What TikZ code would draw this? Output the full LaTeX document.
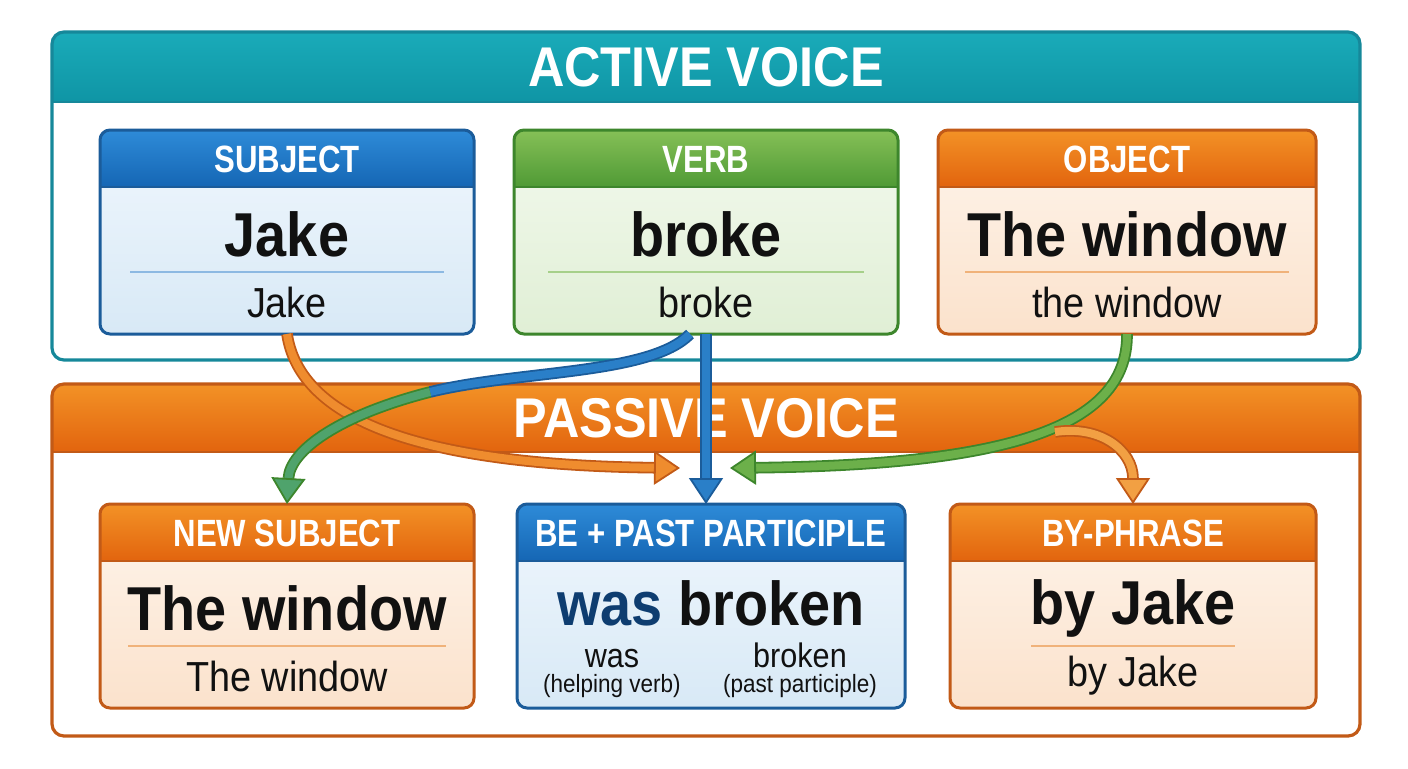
\documentclass[tikz,border=0pt]{standalone}
\usepackage{fontspec}
\setmainfont{Liberation Sans}[FakeStretch=0.9]
\newfontfamily\headfont{Liberation Sans}[FakeStretch=0.82]
\newfontfamily\titlefont{Liberation Sans}[FakeStretch=0.9]
\usetikzlibrary{arrows.meta,calc,positioning}
\definecolor{topABlue}{HTML}{2E8BD8}
\definecolor{topBBlue}{HTML}{1566B4}
\definecolor{edgeBlue}{HTML}{1B5C9A}
\definecolor{bodyABlue}{HTML}{F0F7FD}
\definecolor{bodyBBlue}{HTML}{D8E9F6}
\definecolor{ruleBlue}{HTML}{8DB9E2}
\definecolor{topAGreen}{HTML}{86C057}
\definecolor{topBGreen}{HTML}{4F9A35}
\definecolor{edgeGreen}{HTML}{3D862C}
\definecolor{bodyAGreen}{HTML}{F3F9EE}
\definecolor{bodyBGreen}{HTML}{E0EFD5}
\definecolor{ruleGreen}{HTML}{A6D08A}
\definecolor{topAOrange}{HTML}{F39226}
\definecolor{topBOrange}{HTML}{E2640E}
\definecolor{edgeOrange}{HTML}{C25A17}
\definecolor{bodyAOrange}{HTML}{FEF5EC}
\definecolor{bodyBOrange}{HTML}{FBE2CC}
\definecolor{ruleOrange}{HTML}{F0B27A}
\definecolor{topATeal}{HTML}{1AABB9}
\definecolor{topBTeal}{HTML}{0F95A5}
\definecolor{edgeTeal}{HTML}{16889A}
\definecolor{WasBlue}{HTML}{0E3D70}
\definecolor{arrowOrange}{HTML}{EF8C2E}
\definecolor{arrowBlue}{HTML}{2A7FC8}
\definecolor{arrowTeal}{HTML}{4FA36C}
\definecolor{arrowGreen}{HTML}{6CB04A}
\definecolor{arrowLight}{HTML}{F2A043}
\definecolor{Ink}{HTML}{111111}

\begin{document}
\begin{tikzpicture}[x=0.5pt,y=-0.5pt,
    panelbox/.style={rectangle,inner sep=0pt,outer sep=0pt,minimum width=654pt},
    cardbox/.style={rectangle,inner sep=0pt,outer sep=0pt,minimum height=102pt},
    titletext/.style={text=white,font=\titlefont\bfseries\fontsize{28}{32}\selectfont},
    headtext/.style={text=white,font=\headfont\bfseries\fontsize{19}{22}\selectfont},
    bigtext/.style={text=Ink,inner sep=0pt,font=\bfseries\fontsize{31}{34}\selectfont},
    smalltext/.style={text=Ink,inner sep=0pt,font=\fontsize{21}{24}\selectfont},
    notetext/.style={text=Ink,inner sep=0pt,font=\fontsize{12.5}{14}\selectfont},
    flow/.style 2 args={draw=#1,double=#2,double distance=4pt,line width=0.9pt,
                        -{Triangle[length=13pt,width=17pt,fill=#2]}}]
  \useasboundingbox (0,0) rectangle (1408,768);
  % panels: white body, coloured header band
  \foreach \pname/\ptop/\pbot/\phead/\col/\ptitle in
      {active/32/360/70/Teal/ACTIVE VOICE,passive/384/736/68/Orange/PASSIVE VOICE}{%
    \node[panelbox,minimum height=(\pbot-\ptop)*0.5pt] (\pname) at (706,{(\ptop+\pbot)/2}) {};
    \fill[white,rounded corners=6pt] (\pname.north west) rectangle (\pname.south east);
    \shade[top color=topA\col,bottom color=topB\col]
      ([yshift=-\phead*0.5pt]\pname.north west) [rounded corners=6pt] -- (\pname.north west)
      -- (\pname.north east) [sharp corners] -- ([yshift=-\phead*0.5pt]\pname.north east) -- cycle;
    \draw[edge\col,line width=1.3pt] ([yshift=-\phead*0.5pt]\pname.north west)
      -- ([yshift=-\phead*0.5pt]\pname.north east);
    \draw[edge\col,line width=1.6pt,rounded corners=6pt] (\pname.north west) rectangle (\pname.south east);
    \node[titletext] (\pname title) at ([yshift=-\phead*0.25pt]\pname.north) {\ptitle};
  }
  % cards
  \foreach \name/\cx/\cy/\w/\col/\hd in
      {subject/287/232/374/Blue/SUBJECT,verb/706/232/384/Green/VERB,
       object/1127/232/378/Orange/OBJECT,newsubj/287/606/374/Orange/NEW SUBJECT,
       bepp/711/606/388/Blue/BE + PAST PARTICIPLE,byphrase/1133/606/366/Orange/BY-PHRASE}{%
    \node[cardbox,minimum width=\w*0.5pt] (\name) at (\cx,\cy) {};
    \shade[top color=bodyA\col,bottom color=bodyB\col,rounded corners=5pt]
      (\name.north west) rectangle (\name.south east);
    \shade[top color=topA\col,bottom color=topB\col]
      ([yshift=-28.5pt]\name.north west) [rounded corners=5pt] -- (\name.north west)
      -- (\name.north east) [sharp corners] -- ([yshift=-28.5pt]\name.north east) -- cycle;
    \draw[edge\col,line width=1pt] ([yshift=-28.5pt]\name.north west) -- ([yshift=-28.5pt]\name.north east);
    \draw[edge\col,line width=1.5pt,rounded corners=5pt] (\name.north west) rectangle (\name.south east);
    \node[headtext] (\name head) at ([yshift=-14.5pt]\name.north) {\hd};
  }
  % words in the plain cards
  \foreach \name/\col/\bigword/\smallword/\rulehalf in
      {subject/Blue/Jake/Jake/157,verb/Green/broke/broke/158,
       object/Orange/The window/the window/162,newsubj/Orange/The window/The window/159,
       byphrase/Orange/by Jake/by Jake/102}{%
    \node[bigtext] (\name big) at ([yshift=-52pt]\name.north) {\bigword};
    \draw[rule\col,line width=1pt] ([xshift=-\rulehalf*0.5pt,yshift=-71pt]\name.north)
      -- ([xshift=\rulehalf*0.5pt,yshift=-71pt]\name.north);
    \node[smalltext] (\name small) at ([yshift=-86pt]\name.north) {\smallword};
  }
  % be + past participle card
  \node[bigtext] (beppbig) at ([yshift=-49.5pt]bepp.north) {\textcolor{WasBlue}{was} broken};
  \node[smalltext,font=\fontsize{17}{19}\selectfont,anchor=base] (wasword)
    at ([xshift=-49.5pt,yshift=-81.5pt]bepp.north) {was};
  \node[notetext,anchor=north] (wasnote) at ([xshift=-49.5pt,yshift=-85pt]bepp.north) {(helping verb)};
  \node[smalltext,font=\fontsize{17}{19}\selectfont,anchor=base] (brokenword)
    at ([xshift=44.5pt,yshift=-81.5pt]bepp.north) {broken};
  \node[notetext,anchor=north] (brokennote) at ([xshift=44.5pt,yshift=-85pt]bepp.north) {(past participle)};
  % connectors
  \coordinate (leftin) at (680,468);
  \coordinate (rightin) at (730,468);
  \coordinate (bend) at (430,392);
  \coordinate (fork) at (1055,432);
  \draw[flow={edgeOrange}{arrowOrange}] (subject.south) .. controls (300,420) and (420,465) .. (leftin);
  \draw[flow={edgeBlue}{arrowBlue},-] ([xshift=-8pt]verb.south) .. controls (650,375) and (520,370) .. (bend);
  \draw[flow={edgeGreen}{arrowTeal}] (bend) .. controls (340,415) and (290,450) .. (newsubj.north);
  \draw[flow={edgeBlue}{arrowBlue}] (verb.south) -- (verb.south |- bepp.north);
  \draw[flow={edgeGreen}{arrowGreen}] (object.south) .. controls (1128,430) and (1000,465) .. (rightin);
  \draw[flow={edgeOrange}{arrowLight}] (fork) .. controls (1100,425) and (1133,450) .. (byphrase.north);
\end{tikzpicture}
\end{document}
